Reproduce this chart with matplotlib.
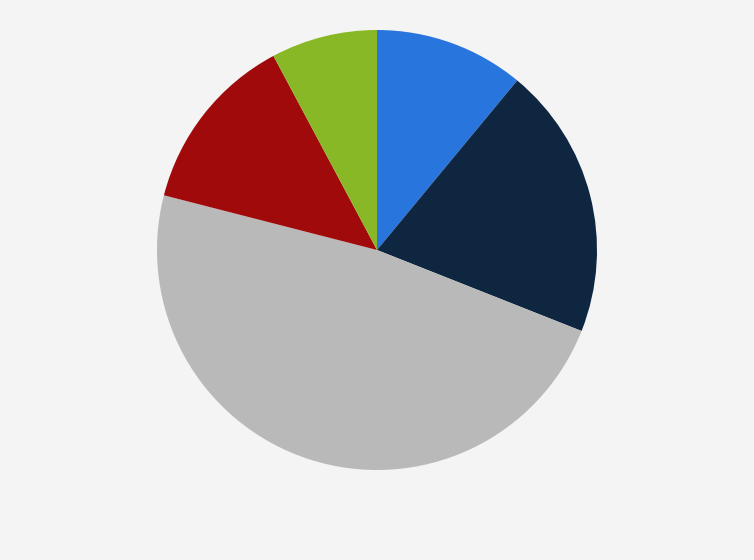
import matplotlib
matplotlib.use("Agg")
import matplotlib.pyplot as plt

# slice shares, clockwise from 12 o'clock
labels = ["Blue", "Navy", "Gray", "Red", "Green"]
shares = [11.0, 20.0, 48.0, 13.2, 7.8]
colors = ["#2876dd", "#0f2640", "#b9b9b9", "#a10a0a", "#88b825"]

fig = plt.figure(figsize=(7.54, 5.6), dpi=100)
fig.patch.set_facecolor("#f4f4f4")

# center at (377, 250) px from top, radius ~220 px
ax = fig.add_axes([157 / 754, 90 / 560, 440 / 754, 440 / 560])
ax.set_facecolor("#f4f4f4")
ax.pie(shares, colors=colors, startangle=90, counterclock=False,
       wedgeprops=dict(linewidth=0))
ax.set_xlim(-1, 1)
ax.set_ylim(-1, 1)
ax.set_aspect("equal")
ax.axis("off")

fig.savefig("out.png", dpi=100, facecolor=fig.get_facecolor())
